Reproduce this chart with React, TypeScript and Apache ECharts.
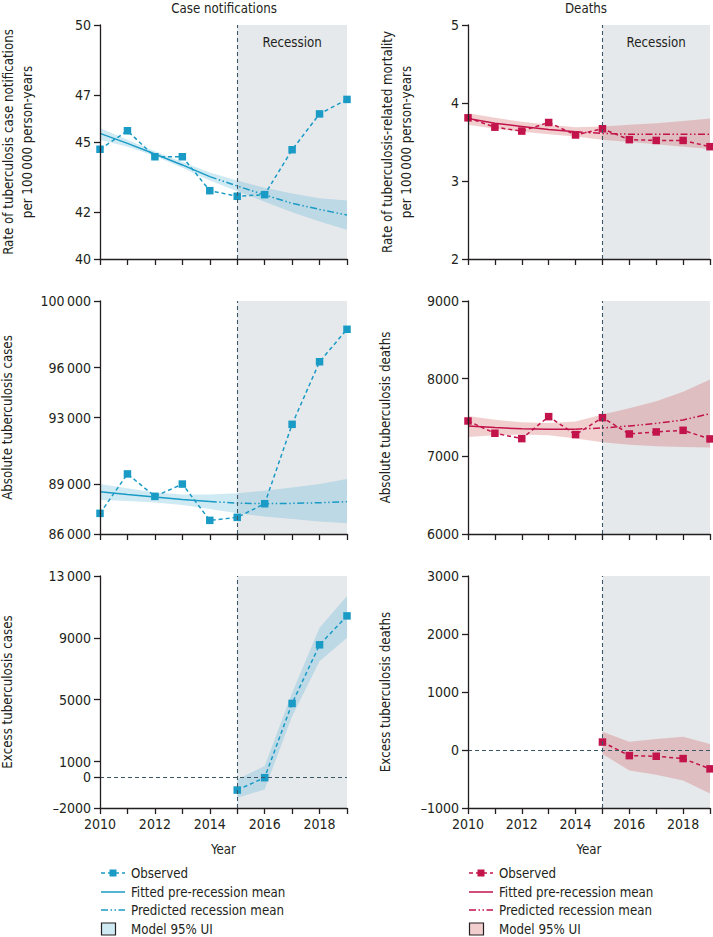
import React, { useEffect, useRef } from 'react';
import * as echarts from 'echarts';

const years = ['2010', '2011', '2012', '2013', '2014', '2015', '2016', '2017', '2018', '2019'];

// Case notification rate (per 100 000 person-years)
const rateCasesObserved = [44.69, 45.48, 44.37, 44.37, 42.92, 42.68, 42.75, 44.67, 46.2, 46.82];
const rateCasesFitted = [45.37, 44.94, 44.49, 44.02, 43.52, null, null, null, null, null];
const rateCasesPredicted = [null, null, null, null, 43.52, 43.12, 42.74, 42.38, 42.12, 41.88];
const rateCasesUpper = [45.6, 45.1, 44.6, 44.15, 43.7, 43.35, 43.05, 42.8, 42.6, 42.5];
const rateCasesLower = [45.1, 44.8, 44.4, 43.9, 43.35, 42.9, 42.45, 42.0, 41.6, 41.25];
const rateCasesTicks = [40, 42, 45, 47, 50];

// Mortality rate (per 100 000 person-years)
const rateDeathsObserved = [3.81, 3.69, 3.64, 3.75, 3.59, 3.67, 3.53, 3.52, 3.52, 3.44];
const rateDeathsFitted = [3.8, 3.74, 3.7, 3.66, 3.63, null, null, null, null, null];
const rateDeathsPredicted = [null, null, null, null, 3.63, 3.61, 3.6, 3.6, 3.6, 3.6];
const rateDeathsUpper = [3.87, 3.81, 3.76, 3.72, 3.69, 3.7, 3.72, 3.74, 3.77, 3.8];
const rateDeathsLower = [3.72, 3.67, 3.63, 3.6, 3.57, 3.53, 3.5, 3.47, 3.44, 3.41];
const rateDeathsTicks = [2, 3, 4, 5];

// Absolute cases
const absCasesObserved = [87240, 89610, 88260, 89000, 86820, 87000, 87820, 92590, 96350, 98300];
const absCasesFitted = [88540, 88380, 88230, 88080, 87950, null, null, null, null, null];
const absCasesPredicted = [null, null, null, null, 87950, 87860, 87820, 87840, 87880, 87940];
const absCasesUpper = [89000, 88750, 88500, 88380, 88380, 88450, 88600, 88800, 89000, 89300];
const absCasesLower = [88050, 87980, 87900, 87750, 87500, 87250, 87050, 86900, 86750, 86650];
const absCasesTicks = [86000, 89000, 93000, 96000, 100000];

// Absolute deaths
const absDeathsObserved = [7455, 7297, 7228, 7511, 7280, 7498, 7288, 7314, 7335, 7224];
const absDeathsFitted = [7390, 7370, 7355, 7350, 7350, null, null, null, null, null];
const absDeathsPredicted = [null, null, null, null, 7350, 7365, 7391, 7425, 7468, 7549];
const absDeathsUpper = [7520, 7470, 7440, 7430, 7450, 7540, 7620, 7710, 7830, 7990];
const absDeathsLower = [7250, 7270, 7280, 7270, 7230, 7180, 7150, 7130, 7120, 7115];
const absDeathsTicks = [6000, 7000, 8000, 9000];

// Excess cases
const excessCasesObserved = [null, null, null, null, null, -840, -40, 4760, 8550, 10420];
const excessCasesUpper = [null, null, null, null, null, -150, 710, 5450, 9650, 11700];
const excessCasesLower = [null, null, null, null, null, -1340, -800, 3940, 7490, 9000];
const excessCasesTicks = [-2000, 0, 1000, 5000, 9000, 13000];

// Excess deaths
const excessDeathsObserved = [null, null, null, null, null, 137, -97, -108, -148, -325];
const excessDeathsUpper = [null, null, null, null, null, 313, 142, 188, 228, 103];
const excessDeathsLower = [null, null, null, null, null, -68, -353, -427, -524, -752];
const excessDeathsTicks = [-1000, 0, 1000, 2000, 3000];

const recessionStart = '2015';
const recessionEnd = '2019';

const BLUE = '#1a9bc6';
const RED = '#c2134b';
const BLUE_BAND = 'rgba(40,160,205,0.22)';
const RED_BAND = 'rgba(205,70,70,0.26)';
const DARK = '#231f20';
const REF = '#3c5866';
const SHADE = '#e6e9ec';
const FONT = '"DejaVu Sans Condensed", "Liberation Sans", sans-serif';
const FS = 13.2;
const TFS = 14;

const fmt = (v: number) => {
  const a = Math.abs(v);
  const s = a >= 10000 ? String(a).replace(/\B(?=(\d{3})+(?!\d))/g, '\u2009') : String(a);
  return (v < 0 ? '\u2013' : '') + s;
};

type Panel = {
  left: number; top: number; width: number; height: number;
  color: string; band: string;
  observed: (number | null)[]; fitted?: (number | null)[]; predicted?: (number | null)[];
  upper: (number | null)[]; lower: (number | null)[];
  ticks: number[]; name: string; nameGap: number;
  recessionLabel: boolean; zeroLine: boolean; xLabels: boolean;
};

const panels: Panel[] = [
  { left: 100, top: 25, width: 247, height: 234, color: BLUE, band: BLUE_BAND, observed: rateCasesObserved, fitted: rateCasesFitted, predicted: rateCasesPredicted, upper: rateCasesUpper, lower: rateCasesLower, ticks: rateCasesTicks, name: 'Rate of tuberculosis case notifications\nper 100\u2009000 person-years', nameGap: 63, recessionLabel: true, zeroLine: false, xLabels: false },
  { left: 468, top: 25, width: 242, height: 234, color: RED, band: RED_BAND, observed: rateDeathsObserved, fitted: rateDeathsFitted, predicted: rateDeathsPredicted, upper: rateDeathsUpper, lower: rateDeathsLower, ticks: rateDeathsTicks, name: 'Rate of tuberculosis-related mortality\nper 100\u2009000 person-years', nameGap: 52, recessionLabel: true, zeroLine: false, xLabels: false },
  { left: 100, top: 301, width: 247, height: 233, color: BLUE, band: BLUE_BAND, observed: absCasesObserved, fitted: absCasesFitted, predicted: absCasesPredicted, upper: absCasesUpper, lower: absCasesLower, ticks: absCasesTicks, name: 'Absolute tuberculosis cases', nameGap: 83, recessionLabel: false, zeroLine: false, xLabels: false },
  { left: 468, top: 301, width: 242, height: 233, color: RED, band: RED_BAND, observed: absDeathsObserved, fitted: absDeathsFitted, predicted: absDeathsPredicted, upper: absDeathsUpper, lower: absDeathsLower, ticks: absDeathsTicks, name: 'Absolute tuberculosis deaths', nameGap: 73, recessionLabel: false, zeroLine: false, xLabels: false },
  { left: 100, top: 576, width: 247, height: 232, color: BLUE, band: BLUE_BAND, observed: excessCasesObserved, upper: excessCasesUpper, lower: excessCasesLower, ticks: excessCasesTicks, name: 'Excess tuberculosis cases', nameGap: 83, recessionLabel: false, zeroLine: true, xLabels: true },
  { left: 468, top: 576, width: 242, height: 232, color: RED, band: RED_BAND, observed: excessDeathsObserved, upper: excessDeathsUpper, lower: excessDeathsLower, ticks: excessDeathsTicks, name: 'Excess tuberculosis deaths', nameGap: 73, recessionLabel: false, zeroLine: true, xLabels: true },
];

const PRED_DASH = [7, 2.5, 1.5, 2.5, 1.5, 2.5];
const OBS_DASH = [4, 3];

function legendGraphics(x: number, color: string, band: string) {
  const rows = [873, 892, 910, 929];
  const x2 = x + 24;
  const els: any[] = [
    { type: 'line', shape: { x1: x, y1: rows[0], x2, y2: rows[0] }, style: { stroke: color, lineWidth: 1.5, lineDash: OBS_DASH } },
    { type: 'rect', shape: { x: x + 8.5, y: rows[0] - 3.5, width: 7, height: 7 }, style: { fill: color } },
    { type: 'line', shape: { x1: x, y1: rows[1], x2, y2: rows[1] }, style: { stroke: color, lineWidth: 1.5 } },
    { type: 'line', shape: { x1: x, y1: rows[2], x2, y2: rows[2] }, style: { stroke: color, lineWidth: 1.5, lineDash: PRED_DASH } },
    { type: 'rect', shape: { x: x + 0.5, y: rows[3] - 6, width: 14, height: 12 }, style: { fill: band, stroke: DARK, lineWidth: 1.2 } },
  ];
  const labels = ['Observed', 'Fitted pre-recession mean', 'Predicted recession mean', 'Model 95% UI'];
  labels.forEach((t, i) => {
    els.push({ type: 'text', x: x + 30, y: rows[i], style: { text: t, fontSize: FS, fontFamily: FONT, fill: DARK, textVerticalAlign: 'middle', textAlign: 'left' } });
  });
  return els;
}

export default function App() {
  const ref = useRef<HTMLDivElement>(null);
  useEffect(() => {
    if (!ref.current) return;
    const chart = echarts.init(ref.current, undefined, { renderer: 'svg' });
    const grid: any[] = [];
    const xAxis: any[] = [];
    const yAxis: any[] = [];
    const series: any[] = [];
    panels.forEach((p, i) => {
      grid.push({ left: p.left, top: p.top, width: p.width, height: p.height, outerBoundsMode: 'none' });
      xAxis.push({
        type: 'category', gridIndex: i, data: years, boundaryGap: false, z: 10,
        axisLine: { onZero: false, lineStyle: { color: DARK, width: 1.3 } },
        axisTick: { interval: 0, length: 6, lineStyle: { color: DARK, width: 1.3 } },
        axisLabel: { show: p.xLabels, interval: 1, fontSize: TFS, fontFamily: FONT, color: DARK, margin: 9 },
        name: p.xLabels ? 'Year' : '', nameLocation: 'middle', nameGap: 35,
        nameTextStyle: { fontSize: FS, fontFamily: FONT, color: DARK },
        splitLine: { show: false },
      });
      const mn = p.ticks[0];
      const mx = p.ticks[p.ticks.length - 1];
      yAxis.push({
        type: 'value', gridIndex: i, min: mn, max: mx, z: 10,
        axisLine: { show: true, onZero: false, lineStyle: { color: DARK, width: 1.3 } },
        axisTick: { show: true, length: 6, customValues: p.ticks, lineStyle: { color: DARK, width: 1.3 } },
        axisLabel: { customValues: p.ticks, formatter: (v: number) => fmt(v), fontSize: TFS, fontFamily: FONT, color: DARK, margin: 9 },
        splitLine: { show: false },
        name: p.name, nameLocation: 'middle', nameGap: p.nameGap,
        nameTextStyle: { fontSize: FS, fontFamily: FONT, color: DARK, lineHeight: 19, align: 'center' },
      });
      const diff = p.upper.map((u, k) => (u == null || p.lower[k] == null ? null : (u as number) - (p.lower[k] as number)));
      series.push({
        type: 'line', xAxisIndex: i, yAxisIndex: i, stack: 'band' + i, stackStrategy: 'all', data: p.lower,
        symbol: 'none', lineStyle: { opacity: 0 }, silent: true, z: 1,
        markArea: {
          silent: true,
          itemStyle: { color: SHADE },
          label: p.recessionLabel
            ? { show: true, position: 'insideTop', distance: 11, formatter: 'Recession', fontSize: FS, fontFamily: FONT, color: DARK }
            : { show: false },
          data: [[{ xAxis: recessionStart }, { xAxis: recessionEnd }]],
        },
      });
      series.push({
        type: 'line', xAxisIndex: i, yAxisIndex: i, stack: 'band' + i, stackStrategy: 'all', data: diff,
        symbol: 'none', lineStyle: { opacity: 0 }, areaStyle: { color: p.band, opacity: 1 }, silent: true, z: 2,
      });
      if (p.fitted) {
        series.push({ type: 'line', xAxisIndex: i, yAxisIndex: i, data: p.fitted, symbol: 'none', lineStyle: { color: p.color, width: 1.5 }, z: 3 });
      }
      if (p.predicted) {
        series.push({ type: 'line', xAxisIndex: i, yAxisIndex: i, data: p.predicted, symbol: 'none', lineStyle: { color: p.color, width: 1.5, type: PRED_DASH }, z: 3 });
      }
      const ml: any[] = [{ xAxis: recessionStart }];
      if (p.zeroLine) ml.push({ yAxis: 0 });
      series.push({
        type: 'line', xAxisIndex: i, yAxisIndex: i, data: p.observed,
        symbol: 'rect', symbolSize: 7.5, itemStyle: { color: p.color },
        lineStyle: { color: p.color, width: 1.5, type: OBS_DASH }, z: 4,
        markLine: {
          silent: true, symbol: ['none', 'none'], label: { show: false },
          lineStyle: { color: REF, type: [4, 3], width: 1.1 },
          data: ml,
        },
      });
    });

    chart.setOption({
      animation: false,
      backgroundColor: '#ffffff',
      grid, xAxis, yAxis, series,
      graphic: [
        { type: 'text', x: 224, y: 8, style: { text: 'Case notifications', fontSize: FS, fontFamily: FONT, fill: DARK, textAlign: 'center', textVerticalAlign: 'middle' } },
        { type: 'text', x: 586, y: 8, style: { text: 'Deaths', fontSize: FS, fontFamily: FONT, fill: DARK, textAlign: 'center', textVerticalAlign: 'middle' } },
        ...legendGraphics(101, BLUE, BLUE_BAND),
        ...legendGraphics(469, RED, RED_BAND),
      ],
    });
    return () => chart.dispose();
  }, []);
  return <div ref={ref} style={{ position: 'fixed', left: 0, top: 0, width: 713, height: 937 }} />;
}
